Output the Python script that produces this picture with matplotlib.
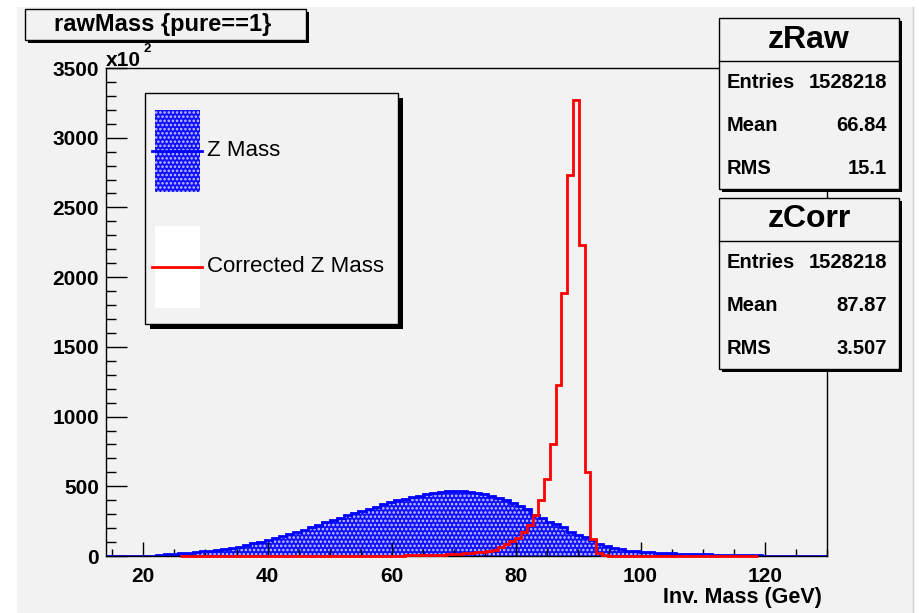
import numpy as np
import matplotlib
matplotlib.use("Agg")
import matplotlib.pyplot as plt
from matplotlib.patches import Rectangle
from matplotlib.lines import Line2D
from matplotlib.ticker import MultipleLocator

# ---------------- data (values in units of 10^2 entries) ----------------
blue_range = (14.0, 130.0)   # 100 bins
blue_vals = [0, 0, 0, 0, 0, 0, 2, 10, 13, 17, 20, 25, 29, 33, 37, 43, 50, 58, 66, 77,
             90, 102, 116, 130, 145, 160, 174, 190, 205, 224, 241, 257, 274, 291, 307, 324, 338, 355, 371, 386,
             400, 409, 424, 433, 445, 452, 457, 463, 467, 467, 459, 452, 443, 429, 419, 400, 381, 357, 334, 293,
             276, 245, 229, 205, 174, 150, 134, 114, 86, 71, 57, 48, 38, 34, 29, 27, 24, 21, 19, 17,
             15, 13, 12, 11, 9, 8, 7, 6, 5, 5, 4, 3, 2, 2, 1, 1, 0, 0, 0, 0]
red_range = (25.9, 118.9)    # 100 bins
red_vals = [0, 0, 0, 0, 0, 0, 0, 0, 0, 0, 0, 0, 0, 0, 0, 0, 0, 0, 0, 0,
            0, 0, 0, 0, 0, 0, 0, 0, 0, 0, 1, 1, 1, 1, 2, 2, 2, 3, 3, 4,
            4, 5, 6, 7, 9, 10, 12, 14, 17, 20, 23, 27, 32, 38, 46, 62, 84, 107, 131, 169,
            221, 293, 400, 555, 805, 1229, 1888, 2729, 3269, 2234, 602, 122, 24, 7, 3, 2, 1, 1, 1, 0,
            0, 0, 0, 0, 0, 0, 0, 0, 0, 0, 0, 0, 0, 0, 0, 0, 0, 0, 0, 0]
xticks = [20, 40, 60, 80, 100, 120]
yticks = [0, 500, 1000, 1500, 2000, 2500, 3000, 3500]

title_text = "rawMass {pure==1}"
xlabel_text = "Inv. Mass (GeV)"
legend_labels = ["Z Mass", "Corrected Z Mass"]
stats = [("zRaw", [("Entries", "1528218"), ("Mean", "66.84"), ("RMS", "15.1")]),
         ("zCorr", [("Entries", "1528218"), ("Mean", "87.87"), ("RMS", "3.507")])]

# ---------------- figure ----------------
W, H = 919, 613
plt.rcParams['font.family'] = ['Liberation Sans', 'DejaVu Sans']
plt.rcParams['hatch.linewidth'] = 1.2
fig = plt.figure(figsize=(W / 100, H / 100), dpi=100, facecolor='white')
GRAY = '#f2f2f2'


def fx(px):
    return px / W


def fy(py):
    return 1 - py / H


# canvas gray area
fig.patches.append(Rectangle((fx(17), 0), fx(913) - fx(17), fy(7), transform=fig.transFigure,
                             facecolor=GRAY, edgecolor='none', zorder=-5))
fig.add_artist(Line2D([fx(913), fx(913)], [0, fy(7)], transform=fig.transFigure, color='#d0d0d0', lw=1,
                      zorder=-4))

L, R, T, B = 106, 827, 68, 556
ax = fig.add_axes([fx(L), fy(B), fx(R) - fx(L), fy(T) - fy(B)])
ax.set_zorder(1)
ax.set_facecolor(GRAY)

be = np.linspace(blue_range[0], blue_range[1], len(blue_vals) + 1)
re = np.linspace(red_range[0], red_range[1], len(red_vals) + 1)

ax.stairs(blue_vals, be, fill=True, facecolor='#1010ff', edgecolor='none', zorder=2)
ax.stairs(blue_vals, be, fill=True, facecolor='none', edgecolor='#c8c8ff', hatch='....', linewidth=0, zorder=2.1)
ax.stairs(blue_vals, be, color='blue', lw=2, zorder=3)
ax.stairs(red_vals, re, color='red', lw=2, zorder=4, clip_on=False)

ax.set_xlim(14, 130)
ax.set_ylim(0, 3487)
ax.set_xticks(xticks)
ax.set_yticks(yticks)
ax.xaxis.set_minor_locator(MultipleLocator(5))
ax.yaxis.set_minor_locator(MultipleLocator(100))
ax.tick_params(axis='x', which='major', direction='in', length=10, width=1, pad=8, labelsize=15,
               top=False)
ax.tick_params(axis='x', which='minor', direction='in', length=5, width=1, top=False)
ax.tick_params(axis='y', which='major', direction='in', length=15, width=1, pad=5, labelsize=15,
               right=False)
ax.tick_params(axis='y', which='minor', direction='in', length=7, width=1, right=False)
for lab in ax.get_xticklabels() + ax.get_yticklabels():
    lab.set_fontweight('bold')
ax.xaxis.set_zorder(2.5)
ax.yaxis.set_zorder(2.5)
for s in ax.spines.values():
    s.set_linewidth(1)
    s.set_zorder(3.5)

# exponent label
fig.text(fx(106), fy(66), "x10", fontsize=15, fontweight='bold', ha='left', va='baseline', zorder=6)
fig.text(fx(144), fy(52.5), "2", fontsize=9.5, fontweight='bold', ha='left', va='baseline', zorder=6)

# x label
fig.text(fx(822), fy(597), xlabel_text, fontsize=15.5, fontweight='bold', ha='right', va='center', zorder=6)


def box(x0, y0, x1, y1, shadow=4, z=10):
    fig.patches.append(Rectangle((fx(x0 + shadow), fy(y1 + shadow)), fx(x1) - fx(x0), fy(y0) - fy(y1),
                                 transform=fig.transFigure, facecolor='black', edgecolor='none', zorder=z))
    fig.patches.append(Rectangle((fx(x0), fy(y1)), fx(x1) - fx(x0), fy(y0) - fy(y1),
                                 transform=fig.transFigure, facecolor=GRAY, edgecolor='black', lw=1,
                                 zorder=z + 0.1))


# title box
box(25, 9, 306, 40, shadow=3)
fig.text(fx(163), fy(25), title_text, fontsize=17, fontweight='bold', ha='center', va='center', zorder=11)

# legend
box(145, 93, 398, 324, shadow=5)
fig.patches.append(Rectangle((fx(155), fy(192)), fx(200) - fx(155), fy(110) - fy(192), transform=fig.transFigure,
                             facecolor='#1010ff', edgecolor='none', zorder=11))
fig.patches.append(Rectangle((fx(155), fy(192)), fx(200) - fx(155), fy(110) - fy(192), transform=fig.transFigure,
                             facecolor='none', edgecolor='#c8c8ff', hatch='....', lw=0, zorder=11.1))
fig.add_artist(Line2D([fx(152), fx(202)], [fy(150.5), fy(150.5)], transform=fig.transFigure,
                      color='blue', lw=2, zorder=12))
fig.patches.append(Rectangle((fx(155), fy(308)), fx(200) - fx(155), fy(226) - fy(308), transform=fig.transFigure,
                             facecolor='white', edgecolor='none', zorder=11))
fig.add_artist(Line2D([fx(152), fx(202)], [fy(266.5), fy(266.5)], transform=fig.transFigure,
                      color='red', lw=2, zorder=12))
fig.text(fx(207), fy(150), legend_labels[0], fontsize=16, ha='left', va='center', zorder=12)
fig.text(fx(207), fy(267), legend_labels[1], fontsize=16, ha='left', va='center', zorder=12)

# stats boxes
for i, (name, rows) in enumerate(stats):
    y0 = 18 + i * 179.5
    y1 = y0 + 171
    box(719, y0, 899, y1, shadow=3)
    sep = y0 + 43
    fig.add_artist(Line2D([fx(719), fx(899)], [fy(sep), fy(sep)], transform=fig.transFigure,
                          color='black', lw=1, zorder=11))
    fig.text(fx(809), fy(y0 + 22), name, fontsize=23, fontweight='bold', ha='center', va='center', zorder=12)
    for j, (k, v) in enumerate(rows):
        yy = y0 + 65 + j * 43
        fig.text(fx(727), fy(yy), k, fontsize=14.5, fontweight='bold', ha='left', va='center', zorder=12)
        fig.text(fx(887), fy(yy), v, fontsize=14.5, fontweight='bold', ha='right', va='center', zorder=12)

fig.savefig("out.png", dpi=100, facecolor='white')
